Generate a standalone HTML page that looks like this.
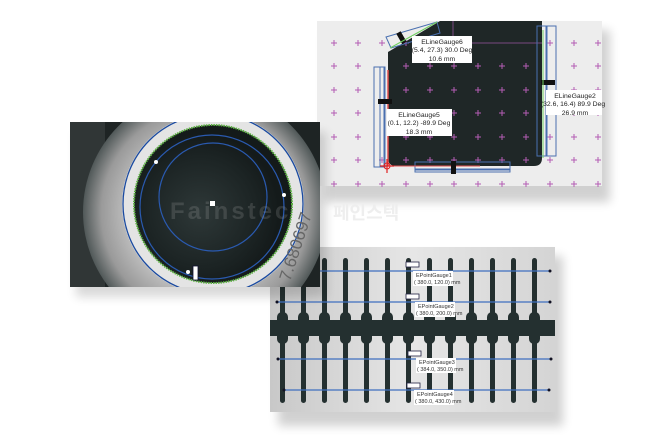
<!DOCTYPE html>
<html><head><meta charset="utf-8"><style>
html,body{margin:0;padding:0;background:#fff;}
svg{display:block}
</style></head><body>
<svg width="670" height="435" viewBox="0 0 670 435" xmlns="http://www.w3.org/2000/svg" font-family="Liberation Sans, sans-serif">
<defs>
<filter id="sh" x="-10%" y="-10%" width="130%" height="140%"><feGaussianBlur stdDeviation="5"/></filter>
<radialGradient id="metal" cx="0.5" cy="0.5" r="0.5">
<stop offset="0.6" stop-color="#c4c4c4"/><stop offset="0.85" stop-color="#9a9a9a"/><stop offset="1" stop-color="#505858"/></radialGradient>
<radialGradient id="hole" cx="0.42" cy="0.55" r="0.5">
<stop offset="0" stop-color="#2e3838"/><stop offset="0.7" stop-color="#1c2424"/><stop offset="1" stop-color="#141a1a"/></radialGradient>
<linearGradient id="bg2" x1="0" y1="0" x2="1" y2="0"><stop offset="0" stop-color="#c8c8c8"/><stop offset="0.5" stop-color="#e6e6e6"/><stop offset="1" stop-color="#d4d4d4"/></linearGradient>
<clipPath id="c1"><rect x="70" y="122" width="250" height="165"/></clipPath>
<clipPath id="c3"><rect x="270" y="247" width="285" height="165"/></clipPath>
</defs>

<rect x="325" y="30" width="285" height="172" fill="#000" opacity="0.18" filter="url(#sh)"/>
<rect x="278" y="256" width="285" height="170" fill="#000" opacity="0.18" filter="url(#sh)"/>

<!-- top right panel -->
<rect x="317" y="21" width="285" height="165" fill="#ededed"/>
<path d="M440 21 L542 21 L542 158 Q542 166 534 166 L396 166 Q388 166 388 158 L388 52 Z" fill="#1f2727"/>
<line x1="453" y1="21" x2="453" y2="43" stroke="#7a4a80" stroke-width="1"/>
<line x1="453" y1="43" x2="542" y2="43" stroke="#7a4a80" stroke-width="1"/>
<g stroke="#b45cb4" stroke-width="1">
<path d="M331 43h6M334 40v6M355 43h6M358 40v6M379 43h6M382 40v6M403 43h6M406 40v6M427 43h6M430 40v6M547 43h6M550 40v6M571 43h6M574 40v6M595 43h6M598 40v6
M331 66h6M334 63v6M355 66h6M358 63v6M403 66h6M406 63v6M427 66h6M430 63v6M451 66h6M454 63v6M475 66h6M478 63v6M499 66h6M502 63v6M523 66h6M526 63v6M571 66h6M574 63v6M595 66h6M598 63v6
M331 90h6M334 87v6M355 90h6M358 87v6M403 90h6M406 87v6M427 90h6M430 87v6M451 90h6M454 87v6M475 90h6M478 87v6M499 90h6M502 87v6M523 90h6M526 87v6M571 90h6M574 87v6M595 90h6M598 87v6
M331 113h6M334 110v6M355 113h6M358 110v6M451 113h6M454 110v6M475 113h6M478 110v6M499 113h6M502 110v6M523 113h6M526 110v6M571 113h6M574 110v6M595 113h6M598 110v6
M331 137h6M334 134v6M355 137h6M358 134v6M403 137h6M406 134v6M427 137h6M430 134v6M451 137h6M454 134v6M475 137h6M478 134v6M499 137h6M502 134v6M523 137h6M526 134v6M547 137h6M550 134v6M571 137h6M574 134v6M595 137h6M598 134v6
M331 160h6M334 157v6M355 160h6M358 157v6M379 160h6M382 157v6M403 160h6M406 157v6M427 160h6M430 157v6M451 160h6M454 157v6M475 160h6M478 157v6M499 160h6M502 157v6M523 160h6M526 157v6M547 160h6M550 157v6M571 160h6M574 157v6M595 160h6M598 157v6
M331 184h6M334 181v6M355 184h6M358 181v6M379 184h6M382 181v6M403 184h6M406 181v6M427 184h6M430 181v6M451 184h6M454 181v6M475 184h6M478 181v6M499 184h6M502 181v6M523 184h6M526 181v6M547 184h6M550 181v6M571 184h6M574 181v6M595 184h6M598 181v6"/>
</g>
<g fill="none" stroke="#4a70b0" stroke-width="1">
<rect x="374" y="67" width="10" height="100"/><rect x="380" y="67" width="5" height="100"/>
<rect x="546" y="26" width="10" height="130"/><rect x="537" y="26" width="10" height="130"/>
<rect x="415" y="162" width="95" height="8"/><rect x="415" y="169" width="95" height="3"/>
<path d="M386 37 L437 22 L440 33 L391 48 Z"/>
</g>
<line x1="388" y1="70" x2="388" y2="166" stroke="#e05050" stroke-width="1.5"/>
<line x1="388" y1="166" x2="480" y2="166" stroke="#e05050" stroke-width="1"/>
<path d="M380 166h14M387 159v14" stroke="#e02020" stroke-width="1.2"/>
<circle cx="387" cy="166" r="3" fill="none" stroke="#e02020"/>
<rect x="378" y="99" width="14" height="5" fill="#111"/><rect x="541" y="80" width="14" height="5" fill="#111"/>
<rect x="451" y="161" width="5" height="13" fill="#111"/><rect x="399" y="32" width="5" height="12" fill="#111" transform="rotate(-30 401 38)"/>
<line x1="543" y1="30" x2="543" y2="158" stroke="#6fcf60" stroke-width="1"/>
<path d="M390 48 L437 22" stroke="#6fcf60" stroke-width="1"/>
<g font-size="6.8" fill="#222" text-anchor="middle">
<rect x="412" y="36" width="60" height="27" fill="#fff"/>
<text x="442" y="44">ELineGauge6</text><text x="442" y="52">(5.4, 27.3) 30.0 Deg</text><text x="442" y="61">10.6 mm</text>
<rect x="387" y="109" width="65" height="27" fill="#fff"/>
<text x="419" y="117">ELineGauge5</text><text x="419" y="125">(0.1, 12.2) -89.9 Deg</text><text x="419" y="134">18.3 mm</text>
<rect x="546" y="90" width="56" height="25" fill="#fff"/>
<text x="575" y="98">ELineGauge2</text><text x="573" y="106">(32.6, 16.4) 89.9 Deg</text><text x="575" y="115">26.9 mm</text>
</g>

<!-- bottom panel -->
<rect x="270" y="247" width="285" height="165" fill="url(#bg2)"/>
<g clip-path="url(#c3)" fill="#243030">
<rect x="270" y="320" width="285" height="16"/>
<g>
<rect x="280" y="258" width="5" height="145" rx="2.5"/><rect x="301" y="258" width="5" height="145" rx="2.5"/><rect x="322" y="258" width="5" height="145" rx="2.5"/><rect x="343" y="258" width="5" height="145" rx="2.5"/><rect x="364" y="258" width="5" height="145" rx="2.5"/><rect x="385" y="258" width="5" height="145" rx="2.5"/><rect x="406" y="258" width="5" height="145" rx="2.5"/><rect x="427" y="258" width="5" height="145" rx="2.5"/><rect x="448" y="258" width="5" height="145" rx="2.5"/><rect x="469" y="258" width="5" height="145" rx="2.5"/><rect x="490" y="258" width="5" height="145" rx="2.5"/><rect x="511" y="258" width="5" height="145" rx="2.5"/><rect x="532" y="258" width="5" height="145" rx="2.5"/>
</g>
<g>
<rect x="277" y="312" width="11" height="32" rx="5"/><rect x="298" y="312" width="11" height="32" rx="5"/><rect x="319" y="312" width="11" height="32" rx="5"/><rect x="340" y="312" width="11" height="32" rx="5"/><rect x="361" y="312" width="11" height="32" rx="5"/><rect x="382" y="312" width="11" height="32" rx="5"/><rect x="403" y="312" width="11" height="32" rx="5"/><rect x="424" y="312" width="11" height="32" rx="5"/><rect x="445" y="312" width="11" height="32" rx="5"/><rect x="466" y="312" width="11" height="32" rx="5"/><rect x="487" y="312" width="11" height="32" rx="5"/><rect x="508" y="312" width="11" height="32" rx="5"/><rect x="529" y="312" width="11" height="32" rx="5"/>
</g>
</g>
<g stroke="#3f6fc0" stroke-width="1.2">
<line x1="270" y1="271" x2="550" y2="271"/><line x1="277" y1="302" x2="550" y2="302"/>
<line x1="277" y1="359" x2="551" y2="359"/><line x1="284" y1="390" x2="549" y2="390"/>
</g>
<g fill="#112">
<circle cx="550" cy="271" r="1.5"/><circle cx="277" cy="302" r="1.5"/><circle cx="550" cy="302" r="1.5"/><circle cx="278" cy="359" r="1.5"/><circle cx="551" cy="359" r="1.5"/><circle cx="284" cy="390" r="1.5"/><circle cx="549" cy="390" r="1.5"/>
</g>
<g fill="#fff" stroke="#224" stroke-width="0.8">
<rect x="406" y="262" width="13" height="5"/><rect x="406" y="294" width="13" height="5"/><rect x="408" y="351" width="13" height="5"/><rect x="407" y="383" width="13" height="5"/>
</g>
<g font-size="5.5" fill="#333">
<rect x="413" y="271" width="40" height="15" fill="#fff"/><text x="416" y="277">EPointGauge1</text><text x="414" y="284">( 380.0, 120.0) mm</text>
<rect x="415" y="302" width="40" height="15" fill="#fff"/><text x="418" y="308">EPointGauge2</text><text x="416" y="315">( 380.0, 200.0) mm</text>
<rect x="416" y="358" width="40" height="15" fill="#fff"/><text x="419" y="364">EPointGauge3</text><text x="417" y="371">( 384.0, 350.0) mm</text>
<rect x="414" y="390" width="40" height="15" fill="#fff"/><text x="417" y="396">EPointGauge4</text><text x="415" y="403">( 380.0, 430.0) mm</text>
</g>

<!-- left panel -->
<rect x="76" y="132" width="250" height="165" fill="#000" opacity="0.15" filter="url(#sh)"/>
<g clip-path="url(#c1)">
<rect x="70" y="122" width="250" height="165" fill="#1e2424"/>
<rect x="70" y="122" width="35" height="165" fill="#303636"/>
<circle cx="205" cy="212" r="122" fill="url(#metal)"/>
<circle cx="213" cy="204" r="91" fill="#e4e4e4"/>
<circle cx="213" cy="204" r="79" fill="url(#hole)" stroke="#5ab040" stroke-width="2" stroke-dasharray="1.5 1"/>
<circle cx="213" cy="204" r="90" fill="none" stroke="#1a4aa0" stroke-width="1.3"/>
<circle cx="212" cy="207" r="72" fill="none" stroke="#2a5ab0" stroke-width="1.2"/>
<circle cx="213" cy="197" r="54" fill="none" stroke="#2a5ab0" stroke-width="1.2"/>
<text x="0" y="0" font-size="17" fill="#666" transform="translate(290 282) rotate(-72)">7.680697</text>
<rect x="210" y="201" width="5" height="5" fill="#fff"/>
<circle cx="156" cy="162" r="2" fill="#fff"/><circle cx="284" cy="195" r="2" fill="#fff"/><circle cx="188" cy="272" r="2" fill="#fff"/>
<rect x="193" y="266" width="5" height="14" fill="#fff" stroke="#113" stroke-width="0.8"/>
</g>
<text x="170" y="219" font-size="24" font-weight="bold" fill="#bbb" opacity="0.18" letter-spacing="3">Fainstec</text>
<text x="333" y="219" font-size="18" font-weight="bold" fill="#eee" font-family="Liberation Sans, 'Noto Sans CJK KR', sans-serif">페인스텍</text>
</svg>
</body></html>
